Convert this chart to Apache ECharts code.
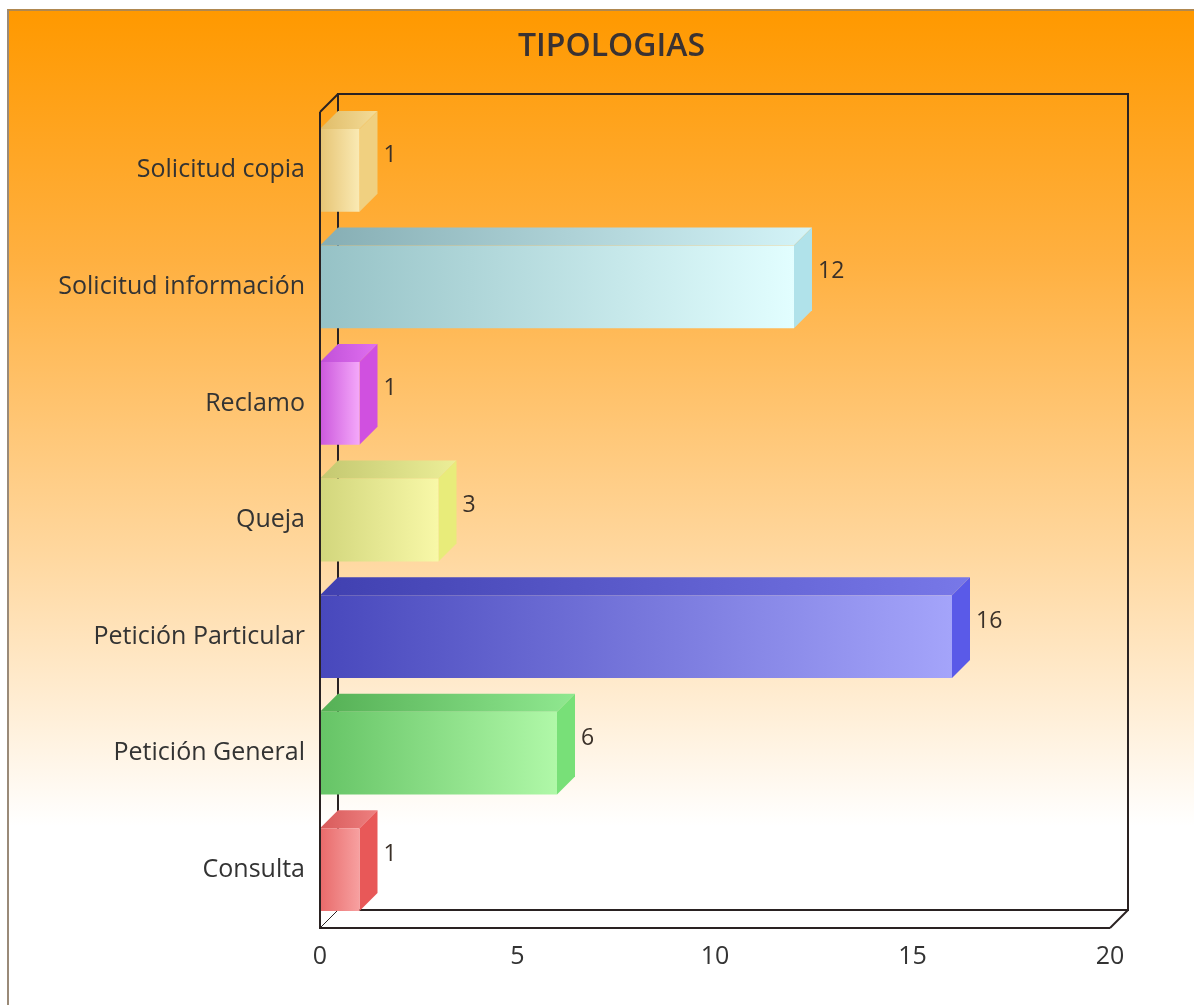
<!DOCTYPE html>
<html>
<head>
<meta charset="utf-8">
<script src="https://cdn.jsdelivr.net/npm/echarts@6/dist/echarts.min.js"></script>
<style>
  html, body { margin: 0; padding: 0; background: #fff; }
  .bg {
    position: absolute; left: 7px; top: 9px; width: 1187px; height: 996px;
    box-sizing: border-box;
    border-left: 2px solid #9a8a78; border-top: 2px solid #b08850;
    background: linear-gradient(to bottom, #ff9900 0%, #ffb040 25%, #ffd8a0 55%, #ffffff 82%, #ffffff 100%);
  }
  #chart { position: absolute; left: 0; top: 0; width: 1194px; height: 1005px; }
</style>
</head>
<body>
<div class="bg"></div>
<div id="chart"></div>
<script>
// categorias de abajo hacia arriba
var categories = ['Consulta', 'Petición General', 'Petición Particular', 'Queja', 'Reclamo', 'Solicitud información', 'Solicitud copia']
var values = [1, 6, 16, 3, 1, 12, 1]
var xTicks = [0, 5, 10, 15, 20]

// colores por barra: [frente izq, frente der, arriba izq, arriba der, lado]
var barColors = [
  ['#e86a6a', '#f7a0a0', '#d85a5a', '#ee8080', '#e85858'],
  ['#66c466', '#b0f8a8', '#55b055', '#90e890', '#78e078'],
  ['#4848bc', '#a4a4fa', '#4040b0', '#7878e8', '#5a5ae8'],
  ['#d2d67c', '#f8f8a8', '#c4c870', '#ecee98', '#e8ec7a'],
  ['#cc58dc', '#f4a8fa', '#c050d8', '#e070f0', '#d050e0'],
  ['#96c2c6', '#e2feff', '#86aeb4', '#d4f4f8', '#b0e2ea'],
  ['#e6c474', '#faeab4', '#e0bc68', '#f4dc98', '#f0d080']
]

var depth = 18
var chart = echarts.init(document.getElementById('chart'))

function grad(c1, c2) {
  return new echarts.graphic.LinearGradient(0, 0, 1, 0, [
    { offset: 0, color: c1 },
    { offset: 1, color: c2 }
  ])
}

function renderBar(params, api) {
  var idx = api.value(1)
  var start = api.coord([0, idx])
  var end = api.coord([api.value(0), idx])
  var band = api.size([0, 1])[1]
  var h = band * 0.71
  var top = start[1] - h / 2
  var bottom = start[1] + h / 2
  var x0 = start[0], x1 = end[0]
  var c = barColors[idx]
  return {
    type: 'group',
    children: [
      {
        type: 'polygon',
        shape: { points: [[x0, top], [x0 + depth, top - depth], [x1 + depth, top - depth], [x1, top]] },
        style: { fill: grad(c[2], c[3]) }
      },
      {
        type: 'polygon',
        shape: { points: [[x1, top], [x1 + depth, top - depth], [x1 + depth, bottom - depth], [x1, bottom]] },
        style: { fill: c[4] }
      },
      {
        type: 'rect',
        shape: { x: x0, y: top, width: x1 - x0, height: h },
        style: { fill: grad(c[0], c[1]) }
      },
      {
        type: 'text',
        x: x1 + depth + 6,
        y: start[1] - 15,
        style: {
          text: String(api.value(0)),
          fill: '#3a3028',
          fontSize: 23,
          fontFamily: 'Open Sans',
          verticalAlign: 'middle'
        }
      }
    ]
  }
}

function renderFrame(params, api) {
  var cs = params.coordSys
  var l = cs.x, t = cs.y, r = cs.x + cs.width, b = cs.y + cs.height
  var st = { stroke: '#2a2222', lineWidth: 2, fill: null }
  return {
    type: 'group',
    children: [
      { type: 'polyline', shape: { points: [[l + depth, b - depth], [l + depth, t - depth], [r + depth, t - depth], [r + depth, b - depth], [l + depth, b - depth]] }, style: st },
      { type: 'line', shape: { x1: l, y1: t, x2: l + depth, y2: t - depth }, style: st },
      { type: 'line', shape: { x1: l, y1: b, x2: l + depth, y2: b - depth }, style: { stroke: '#2a2222', lineWidth: 1 } },
      { type: 'line', shape: { x1: r, y1: b, x2: r + depth, y2: b - depth }, style: st }
    ]
  }
}

function renderFront(params, api) {
  var cs = params.coordSys
  var l = cs.x, t = cs.y, r = cs.x + cs.width, b = cs.y + cs.height
  var st = { stroke: '#2a2222', lineWidth: 2, fill: null }
  return {
    type: 'polyline',
    shape: { points: [[l, t], [l, b], [r, b]] },
    style: st
  }
}

var option = {
  animation: false,
  backgroundColor: 'transparent',
  title: {
    text: 'TIPOLOGIAS',
    left: 513,
    top: 26,
    textStyle: { fontFamily: 'Open Sans', fontWeight: 600, fontSize: 32, color: '#3a3232' }
  },
  grid: { left: 320, right: 84, top: 112, bottom: 77 },
  xAxis: {
    type: 'value',
    min: xTicks[0],
    max: xTicks[xTicks.length - 1],
    interval: xTicks[1] - xTicks[0],
    axisLine: { show: false },
    axisTick: { show: false },
    splitLine: { show: false },
    axisLabel: { margin: 16, color: '#333', fontSize: 25, fontFamily: 'Open Sans' }
  },
  yAxis: {
    type: 'category',
    data: categories,
    axisLine: { show: false },
    axisTick: { show: false },
    axisLabel: { margin: 15, color: '#333', fontSize: 25, fontFamily: 'Open Sans' }
  },
  series: [
    {
      type: 'custom',
      z: 1,
      renderItem: renderFrame,
      data: [[0, 0]],
      encode: { x: 0, y: 1 },
      silent: true
    },
    {
      type: 'custom',
      z: 2,
      renderItem: renderBar,
      data: values.map(function (v, i) { return [v, i] }),
      encode: { x: 0, y: 1 }
    },
    {
      type: 'custom',
      z: 3,
      renderItem: renderFront,
      data: [[0, 0]],
      encode: { x: 0, y: 1 },
      silent: true
    }
  ]
}

option && chart.setOption(option)
</script>
</body>
</html>
